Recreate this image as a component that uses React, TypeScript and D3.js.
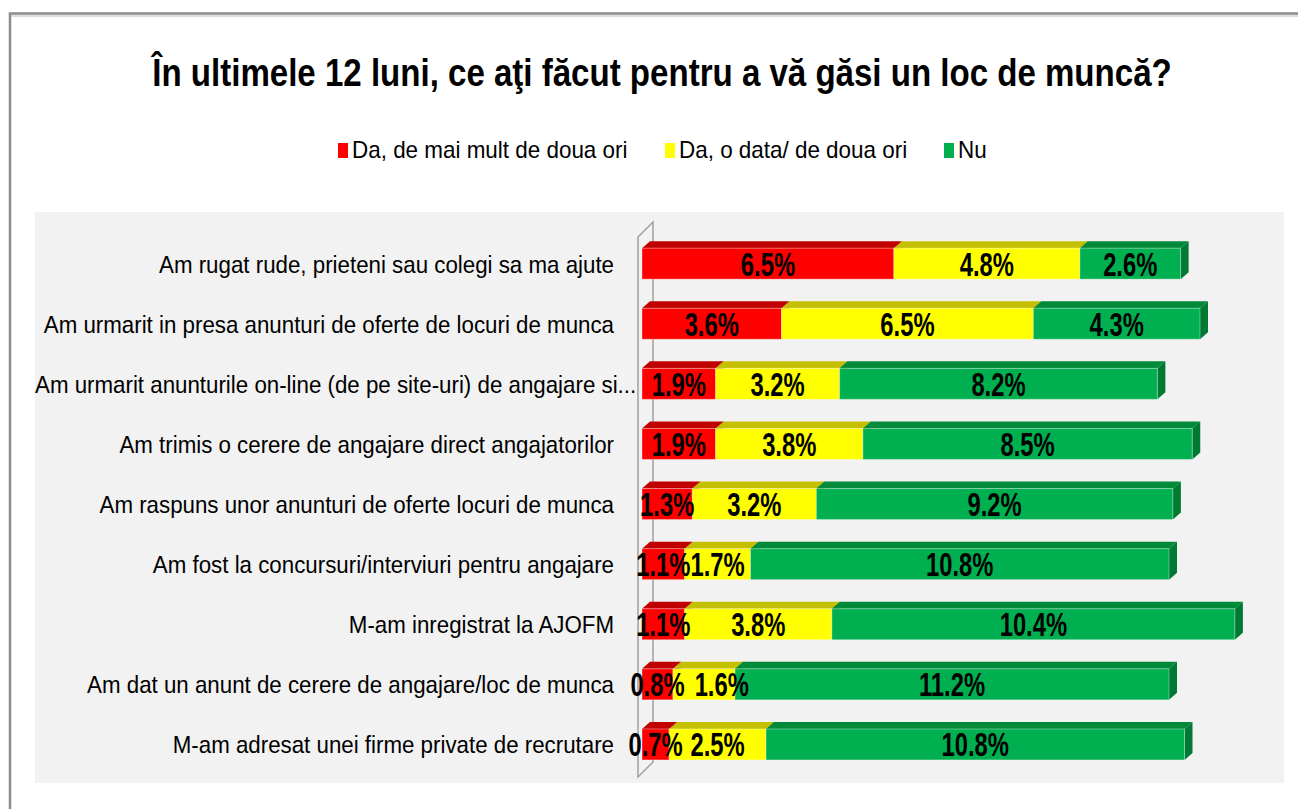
import React from "react";
import * as d3 from "d3";

const categories = [
  "Am rugat rude, prieteni sau colegi sa ma ajute",
  "Am urmarit in presa anunturi de oferte de locuri de munca",
  "Am urmarit anunturile on-line (de pe site-uri) de angajare si...",
  "Am trimis o cerere de angajare direct angajatorilor",
  "Am raspuns unor anunturi de oferte locuri de munca",
  "Am fost la concursuri/interviuri pentru angajare",
  "M-am inregistrat la AJOFM",
  "Am dat un anunt de cerere de angajare/loc de munca",
  "M-am adresat unei firme private de recrutare"
];

const seriesNames = ["Da, de mai mult de doua ori", "Da, o data/ de doua ori", "Nu"];

const moreThanTwice = [6.5, 3.6, 1.9, 1.9, 1.3, 1.1, 1.1, 0.8, 0.7];
const onceOrTwice = [4.8, 6.5, 3.2, 3.8, 3.2, 1.7, 3.8, 1.6, 2.5];
const never = [2.6, 4.3, 8.2, 8.5, 9.2, 10.8, 10.4, 11.2, 10.8];

const title = "În ultimele 12 luni, ce aţi făcut pentru a vă găsi un loc de muncă?";

const frontColors = ["#ff0000", "#ffff00", "#00b050"];
const topColors = ["#c00000", "#c4c000", "#008a3a"];
const sideColors = ["#a00000", "#a8a400", "#007a33"];

const font = "'Liberation Sans', Arial, sans-serif";

// 3d depth of the bars
const dx = 8;
const dy = 7;
const barH = 31;

const labelSize = 34;
const labelScale = 0.7;

// rough width of a "12.3%" label in px (Arial metrics)
const labelWidth = (s: string) => {
  let w = 0;
  for (const ch of s) w += ch === "." ? 0.278 : ch === "%" ? 0.889 : 0.556;
  return w * labelSize * labelScale;
};

export default function App() {
  const rows = categories.map((c, i) => ({
    cat: c,
    s0: moreThanTwice[i],
    s1: onceOrTwice[i],
    s2: never[i]
  }));
  const keys = ["s0", "s1", "s2"];
  const stacked = d3.stack<any>().keys(keys)(rows);

  const x = d3.scaleLinear().domain([0, 16]).range([642, 642 + 16 * 38.75]);
  const y = d3
    .scaleBand()
    .domain(categories)
    .range([233.6, 233.6 + 9 * 60.1]);
  const mid = (c: string) => (y(c) as number) + y.bandwidth() / 2;

  const fmt = (v: number) => v.toFixed(1) + "%";

  const legendX = [338, 665, 944];

  // data labels, nudged right when they would run into the previous one
  const labels: { key: string; x: number; y: number; t: string }[] = [];
  rows.forEach((r, i) => {
    let prevRight = -Infinity;
    stacked.forEach((s, k) => {
      const t = fmt(s[i][1] - s[i][0]);
      const w = labelWidth(t);
      let cx = (x(s[i][0]) + x(s[i][1])) / 2;
      if (cx - w / 2 < prevRight) cx = prevRight + 10 + w / 2;
      prevRight = cx + w / 2;
      labels.push({ key: r.cat + k, x: cx, y: mid(r.cat) + 12, t });
    });
  });

  return (
    <svg width={1298} height={809} style={{ position: "absolute", left: 0, top: 0 }}>
      <rect x={0} y={0} width={1298} height={809} fill="#ffffff" />
      {/* outer frame */}
      <rect x={10} y={13.5} width={1310} height={820} fill="none" stroke="#8c8c8c" strokeWidth={2.5} />
      <line x1={11} y1={16} x2={1298} y2={16} stroke="#d0d0d0" strokeWidth={1.5} />

      <text
        x={0}
        y={0}
        textAnchor="middle"
        fontFamily={font}
        fontWeight="bold"
        fontSize={38}
        fill="#000"
        transform="translate(662,86) scale(0.87,1)"
      >
        {title}
      </text>

      {/* legend */}
      {seriesNames.map((n, i) => (
        <g key={n}>
          <rect x={legendX[i]} y={143} width={10} height={15} fill={frontColors[i]} />
          <text
            x={0}
            y={0}
            fontFamily={font}
            fontSize={24}
            fill="#000"
            transform={`translate(${legendX[i] + 14},158) scale(0.935,1)`}
          >
            {n}
          </text>
        </g>
      ))}

      {/* plot area */}
      <rect x={35} y={212} width={1249} height={571} fill="#f2f2f2" />

      {/* 3d wall of the category axis */}
      <path
        d={`M638,777 L638,237 L653,222 L653,762 Z`}
        fill="#f2f2f2"
        stroke="#a0a0a0"
        strokeWidth={1.5}
      />

      {/* bars */}
      {rows.map((r, i) => {
        const top = mid(r.cat) - barH / 2;
        return (
          <g key={r.cat}>
            {stacked.map((s, k) => {
              const x0 = x(s[i][0]);
              const x1 = x(s[i][1]);
              return (
                <g key={k}>
                  <path
                    d={`M${x0},${top} L${x1},${top} L${x1 + dx},${top - dy} L${x0 + dx},${top - dy} Z`}
                    fill={topColors[k]}
                  />
                  <path
                    d={`M${x1},${top} L${x1 + dx},${top - dy} L${x1 + dx},${top + barH - dy} L${x1},${top + barH} Z`}
                    fill={sideColors[k]}
                  />
                  <rect
                    x={x0}
                    y={top}
                    width={x1 - x0}
                    height={barH}
                    fill={frontColors[k]}
                    stroke="rgba(255,255,255,0.35)"
                    strokeWidth={1}
                  />
                </g>
              );
            })}
          </g>
        );
      })}

      {/* data labels */}
      {labels.map((l) => (
        <text
          key={l.key}
          x={0}
          y={0}
          textAnchor="middle"
          fontFamily={font}
          fontWeight="bold"
          fontSize={labelSize}
          fill="#000"
          transform={`translate(${l.x},${l.y}) scale(${labelScale},1)`}
        >
          {l.t}
        </text>
      ))}

      {/* category labels; truncated ones start at the plot's left edge */}
      {categories.map((c) => {
        const cut = c.endsWith("...");
        return (
          <text
            key={c}
            x={0}
            y={0}
            textAnchor={cut ? "start" : "end"}
            fontFamily={font}
            fontSize={24}
            fill="#000"
            transform={`translate(${cut ? 35 : 614},${mid(c) + 9}) scale(0.93,1)`}
          >
            {c}
          </text>
        );
      })}
    </svg>
  );
}
